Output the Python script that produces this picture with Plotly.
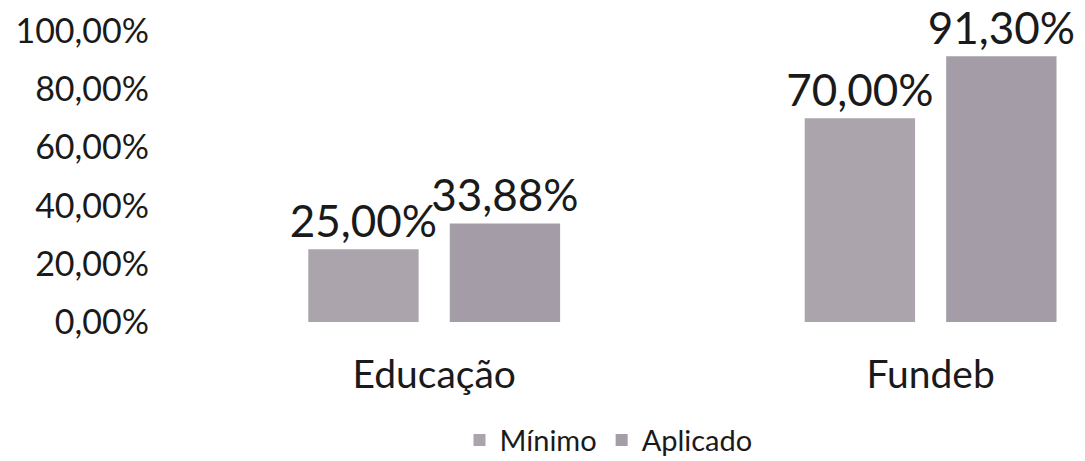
import plotly.graph_objects as go

categories = ["Educação", "Fundeb"]
minimo = [25.00, 70.00]
aplicado = [33.88, 91.30]
y_ticks = [0, 20, 40, 60, 80, 100]
y_ticktext = [f"{v:.2f}%".replace(".", ",") for v in y_ticks]

FONT = "Lato"
TXT = "#1a1a1a"

fig = go.Figure()
fig.add_trace(go.Bar(
    name="Mínimo", x=categories, y=minimo,
    marker=dict(color="#aba4ad", line=dict(width=0)),
    texttemplate="%{y:.2f}%", textposition="outside",
    constraintext="none", cliponaxis=False,
    textfont=dict(family=FONT, size=44, color=TXT),
))
fig.add_trace(go.Bar(
    name="Aplicado", x=categories, y=aplicado,
    marker=dict(color="#a49ca6", line=dict(width=0)),
    texttemplate="%{y:.2f}%", textposition="outside",
    constraintext="none", cliponaxis=False,
    textfont=dict(family=FONT, size=44, color=TXT),
))

# page body has an 8px margin, so the figure is drawn 8px smaller and offset
fig.update_layout(
    width=1077, height=453,
    margin=dict(l=178, r=0, t=23, b=139, autoexpand=False),
    paper_bgcolor="white", plot_bgcolor="white",
    separators=",.",
    barmode="group", bargap=0.43, bargroupgap=0.22,
    font=dict(family=FONT, color=TXT),
    showlegend=True,
    legend=dict(orientation="h", x=0.47, xanchor="center", y=0.046, yanchor="middle",
                yref="container",
                font=dict(family=FONT, size=29, color=TXT), itemwidth=30,
                traceorder="normal"),
)
fig.update_xaxes(range=[-0.5, 1.311], showline=False, showgrid=False, ticks="",
                 automargin=False,
                 tickfont=dict(family=FONT, size=39, color=TXT), ticklabelstandoff=26)
fig.update_yaxes(range=[0, 100], tickmode="array", tickvals=y_ticks, ticktext=y_ticktext,
                 showgrid=False, showline=False, zeroline=False, ticks="",
                 automargin=False,
                 tickfont=dict(family=FONT, size=34, color=TXT), ticklabelstandoff=36)

fig.write_html("out.html")
